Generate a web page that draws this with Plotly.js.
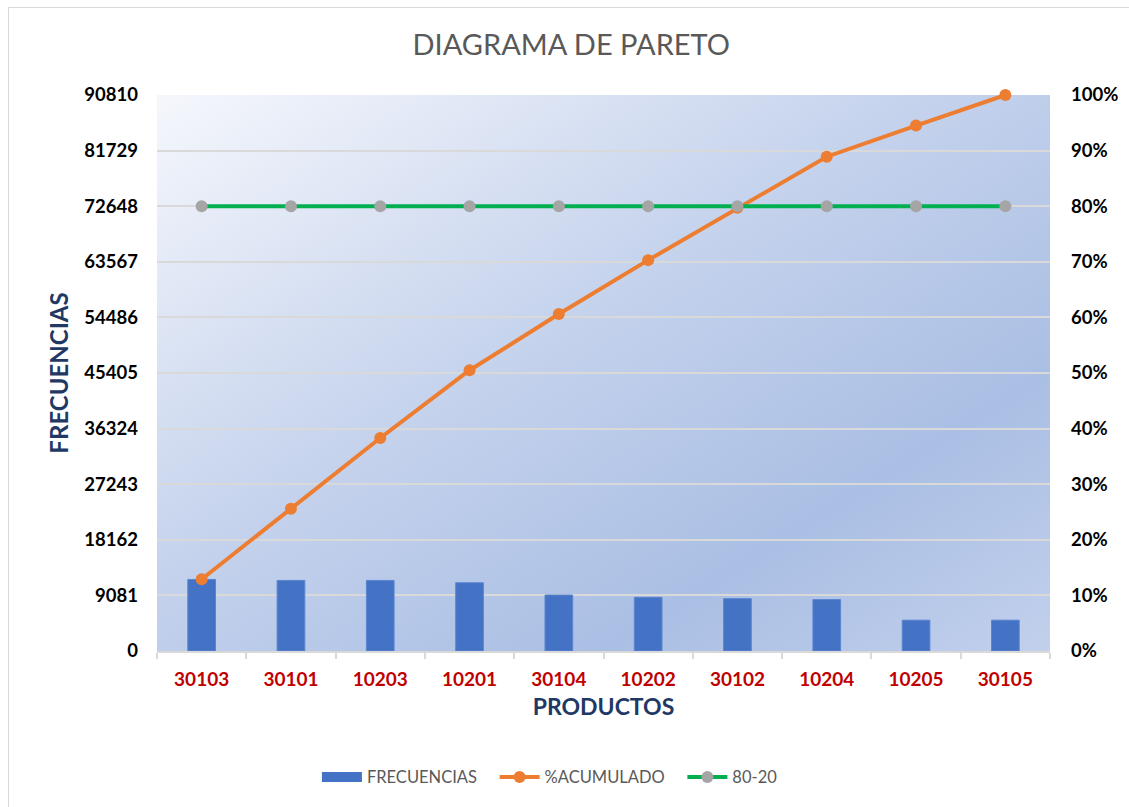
<!DOCTYPE html>
<html>
<head>
<meta charset="utf-8">
<script src="https://cdn.plot.ly/plotly-3.0.1.min.js"></script>
<style>
  html, body { margin: 0; padding: 0; background: #ffffff; }
  #wrap { position: relative; width: 1129px; height: 807px; overflow: hidden; }
  #chart { position: absolute; left: 0; top: 0; width: 1129px; height: 807px; }
  #frame { position: absolute; left: 8px; top: 7px; width: 1140px; height: 820px;
           border: 1px solid #d9d9d9; pointer-events: none; }
</style>
</head>
<body>
<div id="wrap">
  <div id="chart"></div>
  <div id="frame"></div>
</div>
<script>
// ---- data ----
const productos = ["30103", "30101", "10203", "10201", "30104", "10202", "30102", "10204", "10205", "30105"];
const frecuencias = [11690, 11527, 11527, 11150, 9143, 8767, 8550, 8391, 5032, 5033];
const acumulado = [0.129, 0.256, 0.383, 0.505, 0.606, 0.703, 0.797, 0.889, 0.945, 1.0];
const linea8020 = [0.8, 0.8, 0.8, 0.8, 0.8, 0.8, 0.8, 0.8, 0.8, 0.8];
const leftTicks = [0, 9081, 18162, 27243, 36324, 45405, 54486, 63567, 72648, 81729, 90810];
const rightTicks = [0, 0.1, 0.2, 0.3, 0.4, 0.5, 0.6, 0.7, 0.8, 0.9, 1.0];
const rightTickText = ["0%", "10%", "20%", "30%", "40%", "50%", "60%", "70%", "80%", "90%", "100%"];
const seriesNames = ["FRECUENCIAS", "%ACUMULADO", "80-20"];

const FONT = "Lato, 'Open Sans', 'DejaVu Sans', sans-serif";
const GAP = '\u00a0\u00a0\u00a0';

const bg = 'data:image/svg+xml;base64,' + btoa(
  '<svg xmlns="http://www.w3.org/2000/svg" width="100" height="100" preserveAspectRatio="none">' +
  '<defs><linearGradient id="g" x1="0" y1="0" x2="1" y2="1">' +
  '<stop offset="0" stop-color="#f5f7fc"/>' +
  '<stop offset="0.45" stop-color="#c3d1ec"/>' +
  '<stop offset="0.75" stop-color="#aabfe4"/>' +
  '<stop offset="1" stop-color="#c2d0ec"/>' +
  '</linearGradient></defs><rect width="100" height="100" fill="url(#g)"/></svg>');

const traces = [
  {
    type: 'bar', name: seriesNames[0], x: productos, y: frecuencias,
    marker: { color: '#4472C4', line: { color: '#5b85d0', width: 1 } },
    width: 0.31, yaxis: 'y', showlegend: false, legendgroup: 'f'
  },
  {
    // legend entry for the bars, drawn as a wide block like the original
    type: 'scatter', mode: 'lines', name: seriesNames[0] + GAP, x: [null], y: [null],
    yaxis: 'y', line: { color: '#4472C4', width: 13 }, legendgroup: 'f', hoverinfo: 'skip'
  },
  {
    type: 'scatter', mode: 'lines+markers', name: seriesNames[1] + GAP, x: productos, y: acumulado,
    yaxis: 'y2', line: { color: '#ED7D31', width: 4 },
    marker: { color: '#ED7D31', size: 12 }, cliponaxis: false
  },
  {
    type: 'scatter', mode: 'lines+markers', name: seriesNames[2], x: productos, y: linea8020,
    yaxis: 'y2', line: { color: '#00B050', width: 4 },
    marker: { color: '#A5A5A5', size: 12 }, cliponaxis: false
  }
];

const layout = {
  width: 1129, height: 807,
  margin: { l: 157, r: 79, t: 95, b: 156 },
  paper_bgcolor: '#ffffff',
  plot_bgcolor: 'rgba(0,0,0,0)',
  font: { family: FONT, color: '#000000' },
  title: {
    text: 'DIAGRAMA DE PARETO',
    font: { family: FONT, size: 29, color: '#595959' },
    x: 0.506, xref: 'container', xanchor: 'center',
    y: 0.944, yref: 'container', yanchor: 'middle'
  },
  images: [{
    source: bg, xref: 'paper', yref: 'paper', x: 0, y: 1, sizex: 1, sizey: 1,
    xanchor: 'left', yanchor: 'top', sizing: 'stretch', layer: 'below'
  }],
  xaxis: {
    type: 'category', range: [-0.5, 9.5], autorange: false,
    tickfont: { family: FONT, size: 19, color: '#C00000', weight: 'bold' },
    ticks: 'outside', tickson: 'boundaries', ticklen: 6, tickcolor: '#d9d9d9', tickwidth: 2,
    showline: true, linecolor: '#d9d9d9', linewidth: 2,
    showgrid: false,
    ticklabelstandoff: 10,
    title: { text: 'PRODUCTOS', font: { family: FONT, size: 23, color: '#1F3864', weight: 'bold' }, standoff: 10 }
  },
  yaxis: {
    range: [0, 90810], autorange: false,
    tickvals: leftTicks,
    ticktext: leftTicks.map(String),
    tickfont: { family: FONT, size: 18.5, color: '#000000', weight: 'bold' },
    showgrid: true, gridcolor: '#d9d9d9', gridwidth: 2,
    zeroline: false, showline: false,
    ticks: '', ticklabelstandoff: 18,
    title: { text: 'FRECUENCIAS', font: { family: FONT, size: 24, color: '#1F3864', weight: 'bold' }, standoff: 8 }
  },
  yaxis2: {
    overlaying: 'y', side: 'right',
    range: [0, 1.0], autorange: false,
    tickvals: rightTicks, ticktext: rightTickText,
    tickfont: { family: FONT, size: 18.5, color: '#000000', weight: 'bold' },
    showgrid: false, zeroline: false, showline: false,
    ticks: '', ticklabelstandoff: 20
  },
  legend: {
    orientation: 'h', x: 0.44, xanchor: 'center', xref: 'paper',
    y: -0.227, yanchor: 'middle',
    font: { family: FONT, size: 16.5, color: '#595959' },
    itemwidth: 40,
    tracegroupgap: 0
  },
  showlegend: true
};

Plotly.newPlot('chart', traces, layout, { displayModeBar: false, responsive: false });
</script>
</body>
</html>
